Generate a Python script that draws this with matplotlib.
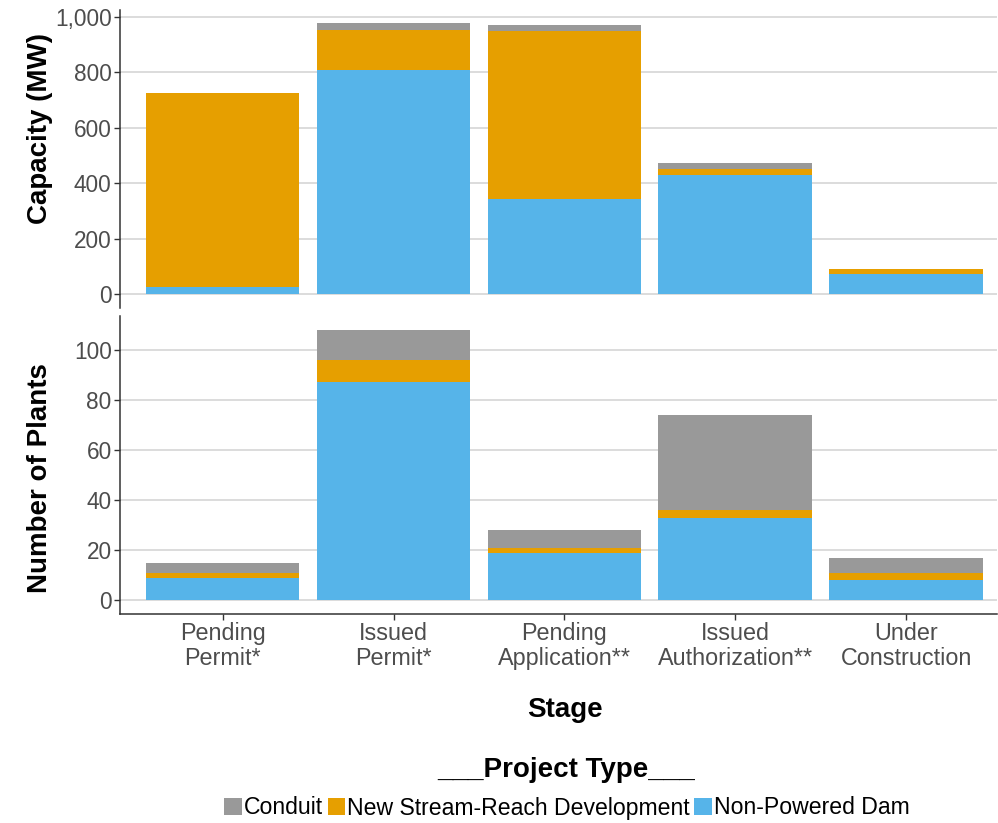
import numpy as np
import matplotlib
matplotlib.use("Agg")
import matplotlib.pyplot as plt
from matplotlib.patches import Patch
from matplotlib.ticker import FuncFormatter

plt.rcParams['font.family'] = ['Liberation Sans', 'DejaVu Sans']

# data
stages = ["Pending\nPermit*", "Issued\nPermit*", "Pending\nApplication**",
          "Issued\nAuthorization**", "Under\nConstruction"]
types = ["Conduit", "New Stream-Reach Development", "Non-Powered Dam"]
colors = {"Conduit": "#999999", "New Stream-Reach Development": "#E69F00",
          "Non-Powered Dam": "#56B4E9"}

cap_npd = [25, 807, 345, 430, 73]
cap_nsd = [701, 145, 603, 20, 19]
cap_con = [1, 24, 23, 23, 1]

n_npd = [9, 87, 19, 33, 8]
n_nsd = [2, 9, 2, 3, 3]
n_con = [4, 12, 7, 38, 6]

tick_col = "#4D4D4D"
grid_col = "#D9D9D9"

fig = plt.figure(figsize=(9.98, 8.23), dpi=100)
ax1 = fig.add_axes([0.1202, 0.6258, 0.8788, 0.362])
ax2 = fig.add_axes([0.1202, 0.254, 0.8788, 0.362])

x = np.arange(len(stages))
w = 0.9


def stack(ax, npd, nsd, con):
    npd = np.array(npd)
    nsd = np.array(nsd)
    con = np.array(con)
    ax.bar(x, npd, w, color=colors["Non-Powered Dam"], zorder=2)
    ax.bar(x, nsd, w, bottom=npd, color=colors["New Stream-Reach Development"], zorder=2)
    ax.bar(x, con, w, bottom=npd + nsd, color=colors["Conduit"], zorder=2)


stack(ax1, cap_npd, cap_nsd, cap_con)
stack(ax2, n_npd, n_nsd, n_con)

for ax in (ax1, ax2):
    ax.set_xlim(-0.6, 4.53)
    ax.grid(axis='y', color=grid_col, linewidth=1.3, zorder=0)
    ax.set_axisbelow(True)
    for s in ("top", "right"):
        ax.spines[s].set_visible(False)
    ax.spines["left"].set_color("#333333")
    ax.spines["left"].set_linewidth(1.1)
    ax.tick_params(axis='y', colors=tick_col, labelsize=16.3, length=4, width=1, pad=2)
    ax.tick_params(axis='y', color="#333333")

ax1.set_ylim(-49, 1024)
ax1.set_yticks([0, 200, 400, 600, 800, 1000])
ax1.yaxis.set_major_formatter(FuncFormatter(lambda v, p: f"{int(v):,}"))
ax1.spines["bottom"].set_visible(False)
ax1.set_xticks([])

ax2.set_ylim(-5.4, 113.4)
ax2.set_yticks([0, 20, 40, 60, 80, 100])
ax2.spines["bottom"].set_color("#333333")
ax2.spines["bottom"].set_linewidth(1.1)
ax2.set_xticks(x)
ax2.set_xticklabels(stages)
ax2.tick_params(axis='x', colors=tick_col, labelsize=16.8, length=4, width=1, pad=2)
ax2.tick_params(axis='x', color="#333333")
for t in ax2.get_xticklabels():
    t.set_linespacing(1.1)

fig.text(40 / 998, 1 - 128 / 823, "Capacity (MW)", rotation=90, ha='center',
         va='center', fontsize=20, fontweight='bold')
fig.text(40 / 998, 1 - 478 / 823, "Number of Plants", rotation=90, ha='center',
         va='center', fontsize=20, fontweight='bold')
fig.text(565 / 998, 1 - 710 / 823, "Stage", ha='center', va='center',
         fontsize=20, fontweight='bold')

fig.text(566 / 998, 1 - 770 / 823, "___Project Type___", ha='center', va='center',
         fontsize=20, fontweight='bold')
handles = [Patch(facecolor=colors[t], label=t) for t in types]
fig.legend(handles=handles, loc='center', bbox_to_anchor=(567 / 998, 1 - 808 / 823),
           ncol=3, frameon=False, fontsize=16.6, handlelength=0.75, handleheight=0.75,
           handletextpad=0.1, columnspacing=0.2, borderpad=0, borderaxespad=0)

fig.savefig("out.png", dpi=100)
